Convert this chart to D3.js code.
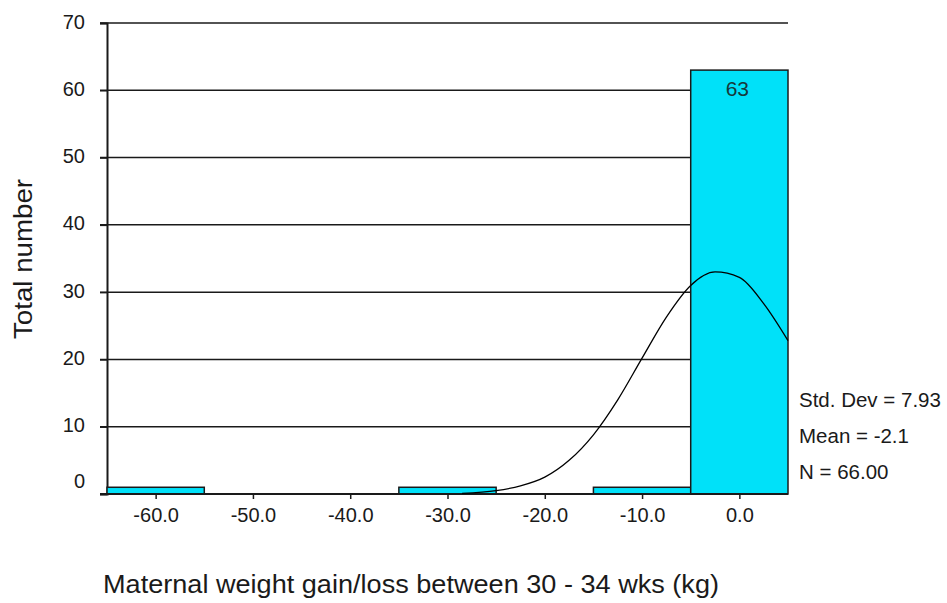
<!DOCTYPE html>
<html>
<head>
<meta charset="utf-8">
<script src="https://cdn.jsdelivr.net/npm/d3@7"></script>
<style>
  body { margin: 0; background: #fff; }
  svg { display: block; font-family: "Liberation Sans", Arial, sans-serif; }
</style>
</head>
<body>
<div class="chart"></div>
<script>
// DATA
const binCenters = [-60, -50, -40, -30, -20, -10, 0];
const binCounts = [1, 0, 0, 1, 0, 1, 63];
const binWidth = 10;

// normal curve
const curveX = [-28.5, -25, -22.5, -20, -17.5, -15, -12.5, -10, -7.5, -5, -2.5, 0, 2.5, 5];
const curveY = [0.1, 0.5, 1.2, 2.5, 5.0, 8.8, 14.0, 20.2, 26.3, 31.0, 33.0, 32.2, 28.3, 22.8];

const yTicks = [0, 10, 20, 30, 40, 50, 60, 70];
const xTicks = [-60, -50, -40, -30, -20, -10, 0];
const statLines = ["Std. Dev = 7.93", "Mean = -2.1", "N = 66.00"];

// GLOBAL CONSTANTS
const FRAME_WIDTH = 947;
const FRAME_HEIGHT = 603;
const MARGINS = {left: 107, right: 159, top: 23, bottom: 109};

const SVG = d3.select(".chart")
  .append("svg")
    .attr("width", FRAME_WIDTH)
    .attr("height", FRAME_HEIGHT);

const X_SCALE = d3.scaleLinear()
  .domain([-65, 5])
  .range([MARGINS.left, FRAME_WIDTH - MARGINS.right]);

const Y_SCALE = d3.scaleLinear()
  .domain([0, 70])
  .range([FRAME_HEIGHT - MARGINS.bottom, MARGINS.top]);

const INK = "#1a1a1a";

// GRID LINES
SVG.append("g")
  .selectAll("line")
  .data(yTicks.filter(d => d > 0))
  .enter()
  .append("line")
    .attr("x1", X_SCALE(-65) - 7)
    .attr("x2", X_SCALE(5))
    .attr("y1", d => Y_SCALE(d))
    .attr("y2", d => Y_SCALE(d))
    .attr("stroke", INK)
    .attr("stroke-width", 1.5);

// Y AXIS
const yAxis = SVG.append("g")
  .attr("transform", "translate(" + X_SCALE(-65) + ",0)")
  .call(d3.axisLeft(Y_SCALE).tickValues(yTicks).tickSize(7).tickPadding(15));
yAxis.select(".domain").attr("stroke", INK).attr("stroke-width", 2);
yAxis.selectAll(".tick line").attr("stroke", INK).attr("stroke-width", 1.5);
yAxis.selectAll("text")
  .attr("font-size", "20px")
  .attr("fill", INK)
  .attr("font-family", "Liberation Sans, Arial, sans-serif")
  .attr("dy", d => d === 0 ? "-0.35em" : "0.25em");

// BARS
const bars = binCenters.map((c, i) => ({center: c, count: binCounts[i]}));
SVG.append("g")
  .selectAll("rect")
  .data(bars.filter(d => d.count > 0))
  .enter()
  .append("rect")
    .attr("x", d => X_SCALE(d.center - binWidth / 2))
    .attr("y", d => Y_SCALE(d.count))
    .attr("width", d => X_SCALE(d.center + binWidth / 2) - X_SCALE(d.center - binWidth / 2))
    .attr("height", d => Y_SCALE(0) - Y_SCALE(d.count))
    .attr("fill", "#00e1f9")
    .attr("stroke", INK)
    .attr("stroke-width", 1.5);

// big bar label
SVG.append("g")
  .selectAll("text")
  .data(bars.filter(d => d.count > 10))
  .enter()
  .append("text")
    .attr("x", d => X_SCALE(d.center) - 2)
    .attr("y", d => Y_SCALE(d.count) + 26)
    .attr("text-anchor", "middle")
    .attr("font-size", "21px")
    .attr("fill", "#17393b")
    .text(d => d.count);

// X AXIS
const xAxis = SVG.append("g")
  .attr("transform", "translate(0," + Y_SCALE(0) + ")")
  .call(d3.axisBottom(X_SCALE).tickValues(xTicks).tickFormat(d => d.toFixed(1)).tickSize(5).tickPadding(9).tickSizeOuter(0));
xAxis.select(".domain").attr("stroke", INK).attr("stroke-width", 2)
  .attr("d", "M" + (X_SCALE(-65) - 7) + ",0H" + X_SCALE(5));
xAxis.selectAll(".tick line").attr("stroke", INK).attr("stroke-width", 1.5);
xAxis.selectAll("text")
  .attr("font-size", "20px")
  .attr("fill", INK)
  .attr("font-family", "Liberation Sans, Arial, sans-serif");

// NORMAL CURVE
const curvePts = curveX.map((x, i) => [x, curveY[i]]);
SVG.append("path")
  .datum(curvePts)
  .attr("fill", "none")
  .attr("stroke", "#000")
  .attr("stroke-width", 1.3)
  .attr("d", d3.line()
    .x(d => X_SCALE(d[0]))
    .y(d => Y_SCALE(d[1]))
    .curve(d3.curveMonotoneX));

// STATS
SVG.append("g")
  .selectAll("text")
  .data(statLines)
  .enter()
  .append("text")
    .attr("x", X_SCALE(5) + 11)
    .attr("y", (d, i) => Y_SCALE(0) - 87 + i * 36)
    .attr("font-size", "20.5px")
    .attr("fill", INK)
    .text(d => d);

// AXIS TITLES
SVG.append("text")
  .attr("x", 103)
  .attr("y", 593)
  .attr("font-size", "26px")
  .attr("textLength", 616)
  .attr("lengthAdjust", "spacingAndGlyphs")
  .attr("fill", INK)
  .text("Maternal weight gain/loss between 30 - 34 wks (kg)");

SVG.append("text")
  .attr("transform", "translate(32," + 259 + ") rotate(-90)")
  .attr("text-anchor", "middle")
  .attr("font-size", "26px")
  .attr("textLength", 160)
  .attr("lengthAdjust", "spacingAndGlyphs")
  .attr("fill", INK)
  .text("Total number");
</script>
</body>
</html>
